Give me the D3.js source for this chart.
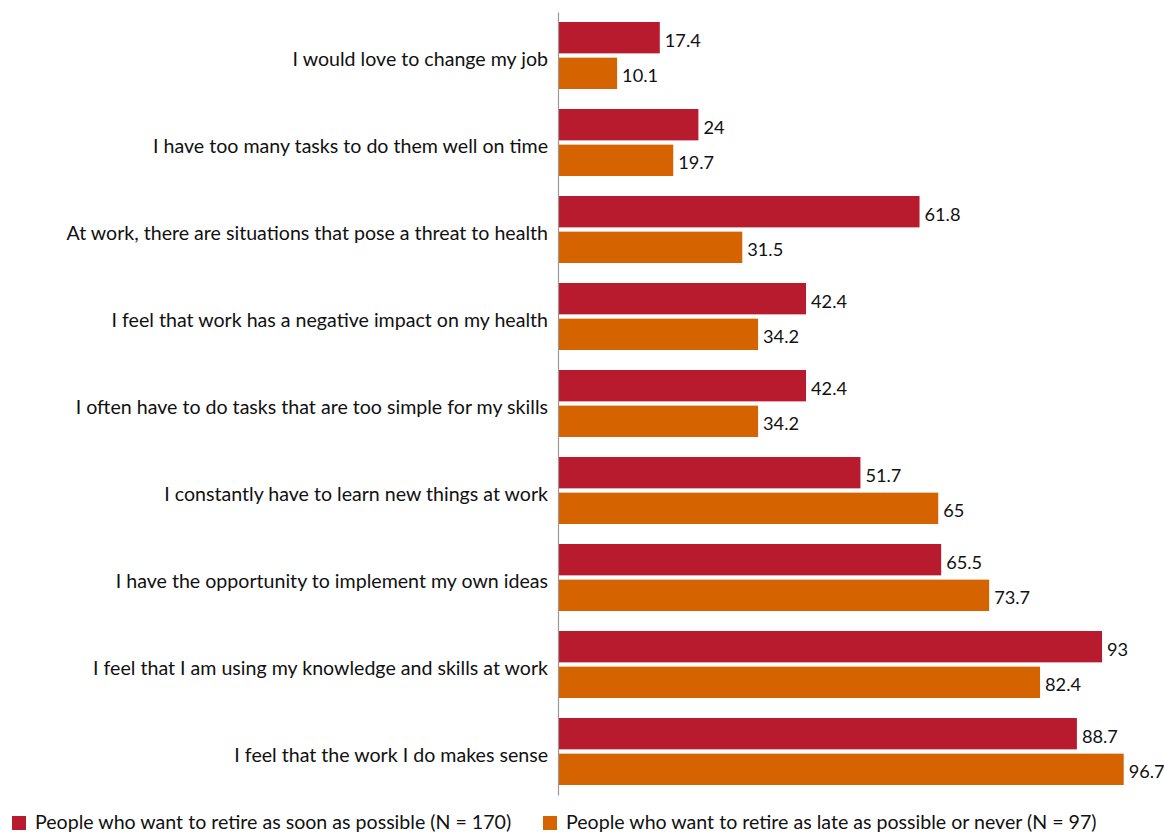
<!DOCTYPE html>
<html>
<head>
<meta charset="utf-8">
<script src="https://cdn.jsdelivr.net/npm/d3@7"></script>
<style>
  html, body { margin: 0; padding: 0; background: #fff; }
  svg { display: block; font-family: Lato, "Open Sans", sans-serif; }
</style>
</head>
<body>
<svg id="chart" width="1164" height="834"></svg>
<script>
// Survey statements, top to bottom
const categories = [
  "I would love to change my job",
  "I have too many tasks to do them well on time",
  "At work, there are situations that pose a threat to health",
  "I feel that work has a negative impact on my health",
  "I often have to do tasks that are too simple for my skills",
  "I constantly have to learn new things at work",
  "I have the opportunity to implement my own ideas",
  "I feel that I am using my knowledge and skills at work",
  "I feel that the work I do makes sense"
];

const seriesNames = [
  "People who want to retire as soon as possible (N = 170)",
  "People who want to retire as late as possible or never (N = 97)"
];

// Percentages per statement
const soonValues = [17.4, 24, 61.8, 42.4, 42.4, 51.7, 65.5, 93, 88.7];
const lateValues = [10.1, 19.7, 31.5, 34.2, 34.2, 65, 73.7, 82.4, 96.7];

const colors = ["#b71b2d", "#d56300"];
const fontSize = 19.6;
const valueFontSize = 18.2;
const textColor = "#111";

const svg = d3.select("#chart");
const axisX = 558;

const x = d3.scaleLinear().domain([0, 100]).range([axisX, axisX + 585]);

const y = d3.scaleBand()
  .domain(categories)
  .range([12, 795])
  .paddingInner(0.23)
  .paddingOuter(0.115);

const ySeries = d3.scaleBand()
  .domain([0, 1])
  .range([0, y.bandwidth()])
  .paddingInner(0.12);

const rows = categories.map((c, i) => ({
  category: c,
  values: [soonValues[i], lateValues[i]]
}));

const groups = svg.append("g")
  .selectAll("g")
  .data(rows)
  .join("g")
  .attr("transform", d => `translate(0,${y(d.category)})`);

groups.selectAll("rect")
  .data(d => d.values)
  .join("rect")
  .attr("x", x(0))
  .attr("y", (v, j) => ySeries(j))
  .attr("width", v => x(v) - x(0))
  .attr("height", ySeries.bandwidth())
  .attr("fill", (v, j) => colors[j]);

groups.selectAll("text.value")
  .data(d => d.values)
  .join("text")
  .attr("class", "value")
  .attr("x", v => x(v) + 5)
  .attr("y", (v, j) => ySeries(j) + ySeries.bandwidth() / 2)
  .attr("dy", "0.5em")
  .attr("font-size", valueFontSize)
  .attr("fill", textColor)
  .text(v => v);

// Category axis: vertical line with statements as labels
const axis = d3.axisLeft(y).tickSize(0).tickSizeOuter(0).tickPadding(10);
const gAxis = svg.append("g")
  .attr("transform", `translate(${axisX},0)`)
  .call(axis);
gAxis.select(".domain").attr("stroke", "#999").attr("stroke-width", 1.2);
gAxis.selectAll(".tick text")
  .attr("font-family", "Lato, 'Open Sans', sans-serif")
  .attr("font-size", fontSize)
  .attr("dy", "0.54em")
  .attr("fill", textColor);

// Legend along the bottom
const legendX = [12, 543];
const legend = svg.append("g")
  .selectAll("g")
  .data(seriesNames)
  .join("g")
  .attr("transform", (d, i) => `translate(${legendX[i]},816)`);

legend.append("rect")
  .attr("width", 14)
  .attr("height", 14)
  .attr("fill", (d, i) => colors[i]);

legend.append("text")
  .attr("x", 23)
  .attr("y", 13)
  .attr("font-size", fontSize)
  .attr("fill", textColor)
  .text(d => d);
</script>
</body>
</html>
